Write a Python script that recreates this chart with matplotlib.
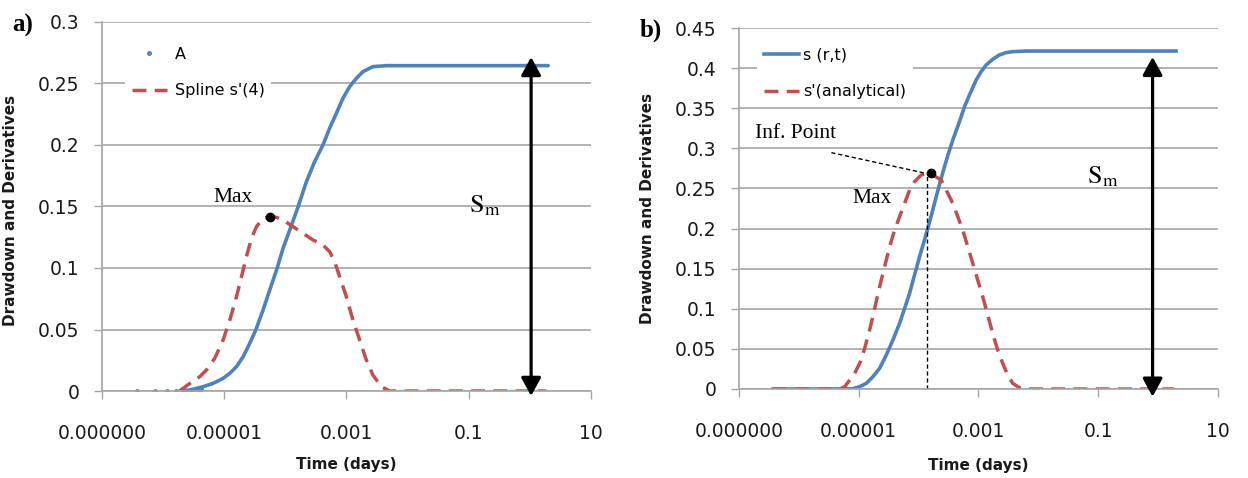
import matplotlib
matplotlib.use('Agg')
import matplotlib.pyplot as plt
import numpy as np
from matplotlib.lines import Line2D

# ---- data (times read as log10 of days) ----
x_ticks = [1e-7, 1e-5, 1e-3, 1e-1, 10]
x_tick_labels = ['0.000000', '0.00001', '0.001', '0.1', '10']

# panel a
a_y_ticks = [0, 0.05, 0.1, 0.15, 0.2, 0.25, 0.3]
a_y_labels = ['0', '0.05', '0.1', '0.15', '0.2', '0.25', '0.3']

a_dots_t = [3.7e-7, 7.5e-7, 1.14e-6, 1.6e-6, 2.1e-6, 2.6e-6, 3.0e-6, 3.4e-6, 3.8e-6, 4.2e-6]
a_dots_s = [0, 0, 0, 0, 0, 0.0003, 0.0005, 0.0008, 0.001, 0.0013]

a_logt = [-5.70, -5.562, -5.345, -5.181, -5.018, -4.908, -4.799, -4.69, -4.582, -4.484,
          -4.364, -4.255, -4.135, -4.037, -3.928, -3.79, -3.655, -3.52, -3.384, -3.275,
          -3.165, -3.057, -2.948, -2.838, -2.73, -2.567, -2.348, -2.0, -1.0, 0.0, 0.30]
a_s = [0.0002, 0.0008, 0.0035, 0.0062, 0.0103, 0.0144, 0.0198, 0.0279, 0.0388, 0.0496,
       0.0659, 0.0821, 0.0997, 0.116, 0.1309, 0.1499, 0.1702, 0.1865, 0.200, 0.2136,
       0.2258, 0.238, 0.2474, 0.2542, 0.2596, 0.2637, 0.2645, 0.2645, 0.2645, 0.2645, 0.2645]

a_spline_logt = [-5.73, -5.562, -5.399, -5.29, -5.154, -5.018, -4.908, -4.799, -4.717,
                 -4.636, -4.554, -4.472, -4.364, -4.255, -4.145, -4.037, -3.874, -3.71,
                 -3.547, -3.384, -3.275, -3.193, -3.111, -3.002, -2.894, -2.784, -2.675,
                 -2.567, -2.43, -2.294, -1.0, 0.0, 0.27]
a_spline_s = [0, 0.0062, 0.0117, 0.0171, 0.0266, 0.0415, 0.0577, 0.0767, 0.093,
              0.1092, 0.1241, 0.1336, 0.1404, 0.1417, 0.1412, 0.139, 0.1336, 0.1282,
              0.1228, 0.1187, 0.1133, 0.1051, 0.093, 0.0767, 0.0577, 0.0415, 0.0252,
              0.013, 0.0035, 0, 0, 0, 0]

a_max = (5.56e-5, 0.1415)
a_sm_t = 1.05
a_sm_top, a_sm_bottom = 0.2715, -0.004

# panel b
b_y_ticks = [0, 0.05, 0.1, 0.15, 0.2, 0.25, 0.3, 0.35, 0.4, 0.45]
b_y_labels = ['0', '0.05', '0.1', '0.15', '0.2', '0.25', '0.3', '0.35', '0.4', '0.45']

b_logt = [-6.43, -6.0, -5.5, -5.095, -4.983, -4.872, -4.761, -4.65, -4.539, -4.428,
          -4.317, -4.233, -4.15, -4.067, -3.983, -3.917, -3.845, -3.778, -3.705, -3.638,
          -3.567, -3.5, -3.428, -3.317, -3.233, -3.15, -3.038, -2.955, -2.872, -2.761,
          -2.65, -2.539, -2.428, -2.205, -1.0, 0.0, 0.30]
b_s = [0, 0, 0, 0.0003, 0.0029, 0.0071, 0.0154, 0.0258, 0.0424, 0.0611,
       0.0818, 0.1005, 0.1193, 0.1421, 0.165, 0.1816, 0.2003, 0.219, 0.2397, 0.2584,
       0.2771, 0.2938, 0.3104, 0.3332, 0.3519, 0.3665, 0.3852, 0.3956, 0.4039, 0.411,
       0.4164, 0.4193, 0.4205, 0.4213, 0.4213, 0.4213, 0.4213]

b_deriv_logt = [-6.43, -6.0, -5.5, -5.317, -5.233, -5.15, -5.067, -4.983, -4.9, -4.817,
                -4.733, -4.65, -4.567, -4.483, -4.4, -4.317, -4.233, -4.15, -4.067,
                -3.956, -3.872, -3.761, -3.622, -3.538, -3.428, -3.345, -3.262, -3.178,
                -3.095, -3.012, -2.928, -2.845, -2.762, -2.678, -2.595, -2.512, -2.428,
                -2.317, -2.205, -1.0, 0.0, 0.27]
b_deriv_s = [0, 0, 0, 0, 0.0029, 0.0112, 0.0195, 0.032, 0.0507, 0.0735,
             0.1005, 0.1276, 0.1525, 0.1774, 0.1982, 0.2148, 0.2314, 0.2481, 0.2585,
             0.2668, 0.2689, 0.2668, 0.2605, 0.2481, 0.2314, 0.2148, 0.1982, 0.1774,
             0.1567, 0.1359, 0.1151, 0.0922, 0.0694, 0.0486, 0.032, 0.0175, 0.0071,
             0.0017, 0, 0, 0, 0]

b_inf = (1.63e-4, 0.269)
b_vline_t = 1.39e-4
b_leader_start = (3.5e-6, 0.2946)
b_leader_end = (1.3e-4, 0.269)
b_sm_t = 0.81
b_sm_top, b_sm_bottom = 0.414, -0.0096

blue = '#4f81bd'
red = '#c0504d'
grid_col = '#a6a6a6'
txt_col = '#1a1a1a'
serif = 'Liberation Serif'
plt.rcParams['mathtext.fontset'] = 'stix'


def style_axes(ax, y_ticks, y_labels, ymax):
    ax.set_xscale('log')
    ax.set_xlim(1e-7, 10)
    ax.set_ylim(0, ymax)
    ax.set_xticks(x_ticks)
    ax.set_xticklabels(x_tick_labels)
    ax.minorticks_off()
    ax.set_yticks(y_ticks)
    ax.set_yticklabels(y_labels)
    ax.tick_params(axis='both', labelsize=13.5, colors=grid_col, labelcolor=txt_col,
                   length=6, width=1)
    ax.tick_params(axis='y', pad=10)
    ax.tick_params(axis='x', pad=18)
    for side in ['top', 'right']:
        ax.spines[side].set_visible(False)
    for side in ['left', 'bottom']:
        ax.spines[side].set_color(grid_col)
        ax.spines[side].set_linewidth(1.2)
    ax.yaxis.grid(True, color=grid_col, linewidth=1.2)
    ax.set_axisbelow(True)
    ax.set_ylabel('Drawdown and Derivatives', fontsize=11, fontweight='bold', color=txt_col)
    ax.set_xlabel('Time (days)', fontsize=11, fontweight='bold', color=txt_col)


def sm_arrow(ax, t, top, bottom):
    ax.annotate('', xy=(t, top), xytext=(t, bottom),
                arrowprops=dict(arrowstyle='<|-|>,head_length=0.55,head_width=0.3',
                                color='black', lw=2.3, mutation_scale=20,
                                shrinkA=0, shrinkB=0))


fig = plt.figure(figsize=(12.48, 4.78), dpi=100)
ax1 = fig.add_axes([0.0817, 0.182, 0.3918, 0.772])
ax2 = fig.add_axes([0.5921, 0.1862, 0.3838, 0.7552])

# ---- panel a ----
style_axes(ax1, a_y_ticks, a_y_labels, 0.3)
ax1.plot(np.power(10.0, a_logt), a_s, color=blue, linewidth=2.6, solid_capstyle='round')
ax1.plot(a_dots_t, a_dots_s, '.', color=blue, markersize=5)
ax1.plot(np.power(10.0, a_spline_logt), a_spline_s, color=red, linewidth=2.5, dashes=(4, 2.4))
ax1.plot(*a_max, 'o', color='black', markersize=6, zorder=5)
ax1.text(1.38e-5, 0.1577, 'Max', fontsize=15.5, family=serif, ha='center', va='center')
ax1.text(0.18, 0.151, r'$\mathrm{S_m}$', fontsize=19, ha='center', va='center')
sm_arrow(ax1, a_sm_t, a_sm_top, a_sm_bottom)
h_a = [Line2D([], [], marker='.', linestyle='none', color=blue, markersize=5),
       Line2D([], [], color=red, linewidth=2.5, dashes=(4, 2.4))]
ax1.legend(h_a, ['A', "Spline s'(4)"], loc='upper left', bbox_to_anchor=(0.048, 0.95),
           fontsize=11.5, frameon=True, fancybox=False, edgecolor='none',
           facecolor='white', framealpha=1, handlelength=2.2, handletextpad=0.5,
           labelspacing=1.35, borderaxespad=0)
ax1.yaxis.set_label_coords(-0.172, 0.49)
ax1.xaxis.set_label_coords(0.5, -0.18)
fig.text(12 / 1248, 1 - 25 / 478, 'a)', fontsize=18, fontweight='bold', family=serif,
         ha='left', va='center')

# ---- panel b ----
style_axes(ax2, b_y_ticks, b_y_labels, 0.45)
ax2.plot(np.power(10.0, b_logt), b_s, color=blue, linewidth=2.6, label='s (r,t)')
ax2.plot(np.power(10.0, b_deriv_logt), b_deriv_s, color=red, linewidth=2.5, dashes=(4, 2.4),
         label="s'(analytical)")
ax2.plot([b_vline_t, b_vline_t], [0, b_inf[1]], color='black', linewidth=1,
         linestyle=(0, (3, 2)))
ax2.plot([b_leader_start[0], b_leader_end[0]], [b_leader_start[1], b_leader_end[1]],
         color='black', linewidth=1, linestyle=(0, (3, 2)))
ax2.plot(*b_inf, 'o', color='black', markersize=6, zorder=5)
ax2.text(8.9e-7, 0.319, 'Inf. Point', fontsize=15.5, family=serif, ha='center', va='center')
ax2.text(1.65e-5, 0.237, 'Max', fontsize=15.5, family=serif, ha='center', va='center')
ax2.text(0.117, 0.2655, r'$\mathrm{S_m}$', fontsize=19, ha='center', va='center')
sm_arrow(ax2, b_sm_t, b_sm_top, b_sm_bottom)
ax2.legend(loc='upper left', bbox_to_anchor=(0.038, 0.963), fontsize=11.5, frameon=True,
           fancybox=False, edgecolor='none', facecolor='white', framealpha=1,
           handlelength=2.2, handletextpad=0.3, labelspacing=1.35, borderaxespad=0)
ax2.yaxis.set_label_coords(-0.175, 0.5)
ax2.xaxis.set_label_coords(0.5, -0.19)
fig.text(640 / 1248, 1 - 30 / 478, 'b)', fontsize=18, fontweight='bold', family=serif,
         ha='left', va='center')

fig.savefig('out.png', dpi=100)
